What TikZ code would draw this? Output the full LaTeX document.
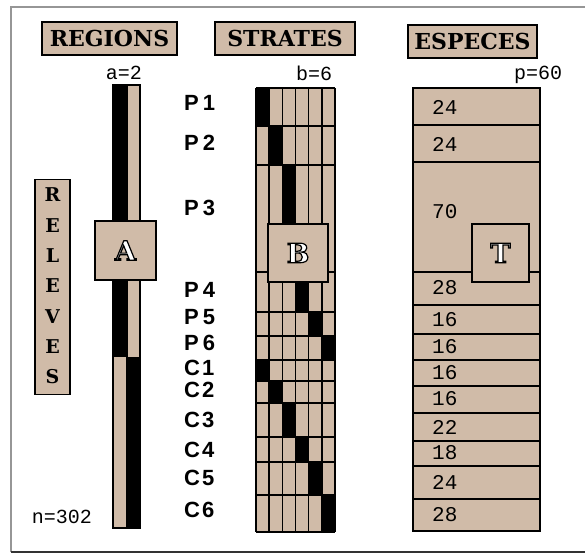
\documentclass[tikz,border=0pt]{standalone}
\usepackage{fontspec}
\newfontfamily\ttlfont{DejaVu Serif}
\newfontfamily\lblfont{Liberation Sans}
\newfontfamily\numfont{Liberation Mono}
\definecolor{tanc}{RGB}{208,187,168}
\definecolor{framegray}{RGB}{150,150,150}
\tikzset{
  titlebox/.style={draw=black, line width=1.6pt, fill=tanc, inner sep=0pt,
    font=\ttlfont\bfseries\fontsize{22}{22}\selectfont},
  bigbox/.style={draw=black, line width=1.6pt, fill=tanc, inner sep=0pt,
    font=\ttlfont\bfseries\fontsize{27}{27}\selectfont},
  rowlab/.style={anchor=west, inner sep=0pt, font=\lblfont\bfseries\fontsize{22}{22}\selectfont},
  numlab/.style={anchor=west, inner sep=0pt, font=\numfont\fontsize{21}{21}\selectfont},
  smalllab/.style={inner sep=0pt, font=\numfont\fontsize{20}{20}\selectfont},
  gridline/.style={line width=1.5pt, black},
}
\newcommand{\outl}[1]{{\color{white}\special{pdf:literal direct 0 G 1.2 w 2 Tr}#1\special{pdf:literal direct 0 Tr}}}
\begin{document}
\begin{tikzpicture}[x=1pt,y=-1pt]
\useasboundingbox (0,0) rectangle (585,554);
% frame
\draw[framegray, line width=1.5pt] (590,7) -- (11,7) -- (11,552);
\draw[black!80, line width=2pt] (11,552) -- (590,552);

% titles
\node[titlebox, minimum width=135pt, minimum height=33pt] (reg) at (109.5,38.5) {REGIONS};
\node[titlebox, minimum width=140pt, minimum height=33pt] (str) at (285,38.5) {STRATES};
\node[titlebox, minimum width=129pt, minimum height=33pt] (esp) at (472.5,41.5) {ESPECES};

\node[smalllab] (a) at (124,73) {a=2};
\node[smalllab] (b) at (314,73) {b=6};
\node[smalllab] (p) at (538,75) {p=60};
\node[smalllab] (n) at (62,517) {n=302};

% releves
\node[draw=black, line width=1.6pt, fill=tanc, minimum width=35pt, minimum height=215pt, inner sep=0pt] (rel) at (52.5,287) {};
\node[align=center, inner sep=0pt, font=\ttlfont\bfseries\fontsize{19}{30.3}\selectfont] (reltxt) at (52.5,286) {R\\E\\L\\E\\V\\E\\S};

% regions bar
\fill[black] (113,85) rectangle (127,357);
\fill[tanc] (127,85) rectangle (140,357);
\fill[tanc] (113,357) rectangle (127,528);
\fill[black] (127,357) rectangle (140,528);
\draw[gridline] (113,85) rectangle (140,528);
\draw[gridline] (127,85) -- (127,528);
\node[bigbox, minimum width=61pt, minimum height=59pt] (A) at (125.5,250.5) {\outl{A}};

% strates grid
\fill[tanc] (256,88) rectangle (335,532);
\def\rows{88,126,165,272,312,336,360,381,403,437,462,495,532}
\foreach \t/\bb/\c in {88/126/0,126/165/1,165/272/2,272/312/3,312/336/4,336/360/5,360/381/0,381/403/1,403/437/2,437/462/3,462/495/4,495/532/5}{
  \fill[black] ({256+\c*13.1667},\t) rectangle ({256+(\c+1)*13.1667},\bb);
}
\foreach \k in {0,...,6}{
  \draw[gridline] ({256+\k*13.1667},88) -- ({256+\k*13.1667},532);
}
\foreach \y in \rows{
  \draw[gridline] (256,\y) -- (335,\y);
}
\node[bigbox, minimum width=60pt, minimum height=58pt] (B) at (298,253) {\outl{B}};

% row labels
\node[rowlab] (P1) at (184,103) {P\hspace{4pt}1};
\node[rowlab] (P2) at (184,143) {P\hspace{4pt}2};
\node[rowlab] (P3) at (184,208) {P\hspace{4pt}3};
\node[rowlab] (P4) at (184,290) {P\hspace{4pt}4};
\node[rowlab] (P5) at (184,317) {P\hspace{4pt}5};
\node[rowlab] (P6) at (184,343) {P\hspace{4pt}6};
\node[rowlab] (C1) at (184,368) {C\hspace{2pt}1};
\node[rowlab] (C2) at (184,390) {C\hspace{2pt}2};
\node[rowlab] (C3) at (184,420) {C\hspace{2pt}3};
\node[rowlab] (C4) at (184,450) {C\hspace{2pt}4};
\node[rowlab] (C5) at (184,478) {C\hspace{2pt}5};
\node[rowlab] (C6) at (184,510) {C\hspace{2pt}6};

% especes column
\fill[tanc] (413,88) rectangle (540,531);
\foreach \y in {125,162,272,305,334,360,386,413,441,466,499}{
  \draw[gridline] (413,\y) -- (540,\y);
}
\draw[gridline] (413,88) rectangle (540,531);
\node[bigbox, minimum width=57pt, minimum height=58pt] (T) at (500.5,253) {\outl{T}};

\node[numlab] (s1) at (432,107) {24};
\node[numlab] (s2) at (432,144) {24};
\node[numlab] (s3) at (432,212) {70};
\node[numlab] (s4) at (432,288) {28};
\node[numlab] (s5) at (432,320) {16};
\node[numlab] (s6) at (432,347) {16};
\node[numlab] (s7) at (432,373) {16};
\node[numlab] (s8) at (432,399) {16};
\node[numlab] (s9) at (432,427) {22};
\node[numlab] (s10) at (432,453) {18};
\node[numlab] (s11) at (432,482) {24};
\node[numlab] (s12) at (432,515) {28};
\end{tikzpicture}
\end{document}
